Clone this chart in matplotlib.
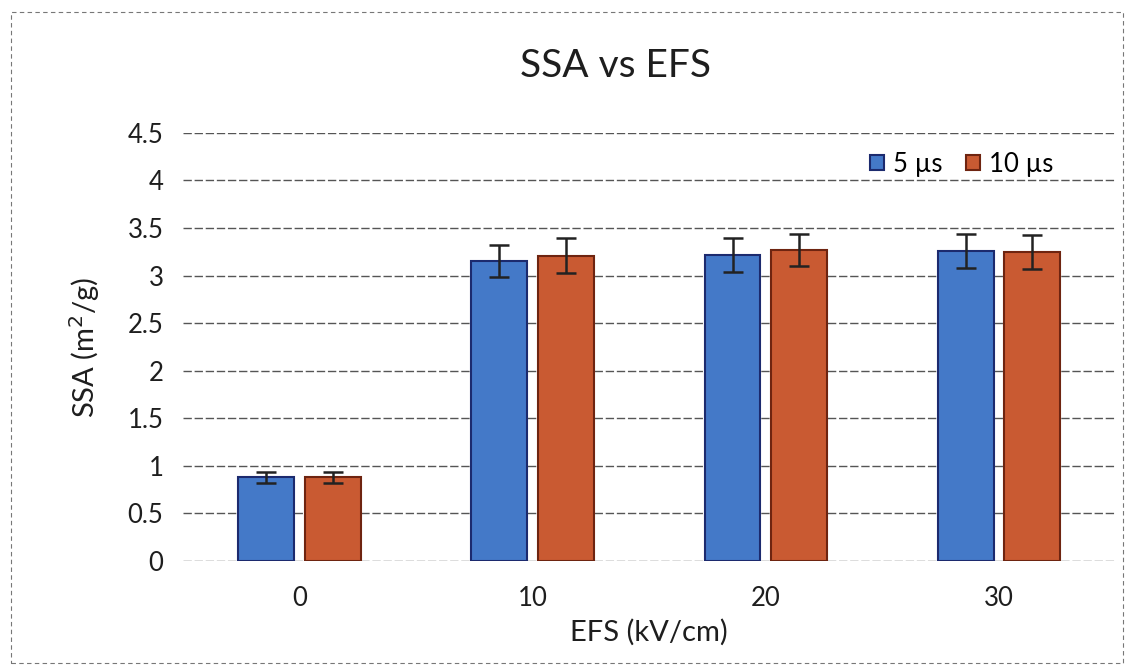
import matplotlib.pyplot as plt
import numpy as np

plt.rcParams['font.family'] = ['Lato', 'DejaVu Sans']

efs = ['0', '10', '20', '30']
ssa_5us = [0.88, 3.15, 3.22, 3.26]
ssa_10us = [0.88, 3.21, 3.27, 3.25]
err_5us = [0.06, 0.17, 0.18, 0.18]
err_10us = [0.06, 0.18, 0.17, 0.18]

fig = plt.figure(figsize=(11.29, 6.71), dpi=100)
ax = fig.add_axes([0.162, 0.164, 0.826, 0.638])

x = np.arange(len(efs))
w = 0.24
gap = 0.045
ax.bar(x - (w + gap) / 2, ssa_5us, w, yerr=err_5us, color='#4479c8',
       edgecolor='#1c2a6e', linewidth=1.5, label='5 µs', zorder=3,
       error_kw=dict(ecolor='#222222', elinewidth=1.8, capsize=7, capthick=1.8))
ax.bar(x + (w + gap) / 2, ssa_10us, w, yerr=err_10us, color='#c95a32',
       edgecolor='#6e2410', linewidth=1.5, label='10 µs', zorder=3,
       error_kw=dict(ecolor='#222222', elinewidth=1.8, capsize=7, capthick=1.8))

ax.set_xlim(-0.5, len(efs) - 0.5)
ax.set_ylim(0, 4.5)
ax.set_yticks(np.arange(0, 4.51, 0.5))
ax.set_yticklabels(['0', '0.5', '1', '1.5', '2', '2.5', '3', '3.5', '4', '4.5'])
ax.set_xticks(x)
ax.set_xticklabels(efs)
ax.tick_params(axis='both', length=0, labelsize=18.5, colors='#1e1e1e')
ax.tick_params(axis='x', pad=18)
ax.tick_params(axis='y', pad=14)
for s in ax.spines.values():
    s.set_visible(False)
ax.yaxis.grid(True, color='#555555', linestyle=(0, (6, 2)), linewidth=1.0, zorder=0)

fig.text(0.545, 1 - 66 / 671, 'SSA vs EFS', fontsize=28, color='#1e1e1e',
         ha='center', va='center')
ax.set_xlabel('EFS (kV/cm)', fontsize=21, color='#1e1e1e', labelpad=6)
ax.set_ylabel('SSA (m$^2$/g)', fontsize=21, color='#1e1e1e', labelpad=18)

ax.legend(loc='upper right', bbox_to_anchor=(0.958, 1.01), ncol=2, frameon=False,
          fontsize=18.5, handlelength=0.55, handleheight=0.55, handletextpad=0.35,
          columnspacing=0.9)

# dashed chart-area border
fig.patches.append(plt.Rectangle((0.01, 0.012), 0.985, 0.97, transform=fig.transFigure,
                                 fill=False, edgecolor='#777777', linestyle=(0, (4, 3)),
                                 linewidth=0.8))

fig.savefig('out.png', dpi=100)
